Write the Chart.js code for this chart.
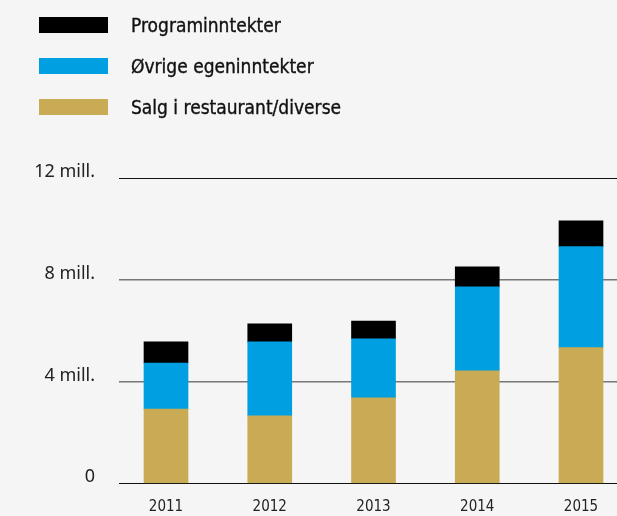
<!DOCTYPE html>
<html>
<head>
<meta charset="utf-8">
<script src="https://cdn.jsdelivr.net/npm/chart.js@4"></script>
<style>
html, body { margin: 0; padding: 0; background: #f5f5f5; overflow: hidden; }
#wrap { position: relative; width: 617px; height: 516px; }
#chart { position: absolute; left: 0; top: 0; }
#legend { position: absolute; left: 0; top: 0; }
.row { position: absolute; left: 39px; height: 41px; display: flex; align-items: center;
       font-family: "DejaVu Sans Condensed", "DejaVu Sans", sans-serif; font-size: 19px; color: #111;
       white-space: nowrap; -webkit-text-stroke: 0.35px #111; }
.box { width: 69px; height: 16px; margin-right: 23px; }
</style>
</head>
<body>
<div id="wrap">
  <canvas id="chart" width="617" height="516"></canvas>
  <div id="legend"></div>
</div>
<script>
const years = [2011, 2012, 2013, 2014, 2015];
const salg = [2.92, 2.65, 3.36, 4.42, 5.33];
const ovrige = [1.81, 2.91, 2.32, 3.30, 3.97];
const program = [0.83, 0.71, 0.70, 0.79, 1.02];
const yTicks = [0, 4, 8, 12];

const pts = arr => years.map((yr, i) => ({ x: yr, y: arr[i] }));

const chart = new Chart(document.getElementById("chart"), {
    type: "bar",
    data: {
        datasets: [
            { label: "Salg i restaurant/diverse", data: pts(salg), backgroundColor: "#c9aa55" },
            { label: "Øvrige egeninntekter", data: pts(ovrige), backgroundColor: "#009fe2" },
            { label: "Programinntekter", data: pts(program), backgroundColor: "#000000" }
        ]
    },
    options: {
        responsive: false,
        animation: false,
        layout: { padding: { top: 178, left: 0, right: 0, bottom: 0 } },
        datasets: { bar: { barThickness: 44 } },
        plugins: { legend: { display: false }, tooltip: { enabled: false } },
        scales: {
            x: {
                type: "linear",
                stacked: true,
                offset: false,
                min: 2010.547,
                max: 2015.347,
                grid: { display: false, offset: false },
                border: { display: false },
                afterBuildTicks: s => { s.ticks = years.map(v => ({ value: v })); },
                afterFit: s => { s.height = 32.7; },
                ticks: {
                    padding: 7,
                    autoSkip: false,
                    maxRotation: 0,
                    color: "#222",
                    font: { family: "DejaVu Sans Condensed, DejaVu Sans", size: 15 },
                    callback: v => String(v)
                }
            },
            y: {
                stacked: true,
                min: 0,
                max: 12,
                afterBuildTicks: s => { s.ticks = yTicks.map(v => ({ value: v })); },
                afterFit: s => { s.width = 119; s.paddingTop = 0; s.paddingBottom = 0; },
                border: { display: false },
                grid: {
                    drawTicks: false,
                    color: c => (c.tick.value === 0 || c.tick.value === 12) ? "#111" : "#777",
                    lineWidth: c => (c.tick.value === 0 || c.tick.value === 12) ? 1 : 1.5
                },
                ticks: {
                    padding: 24,
                    labelOffset: -6,
                    color: "#222",
                    font: { family: "Noto Sans", size: 18 },
                    callback: v => v === 0 ? "0" : v + " mill."
                }
            }
        }
    }
});

// legend, top series first
const legend = document.getElementById("legend");
chart.data.datasets.slice().reverse().forEach((ds, i) => {
    const row = document.createElement("div");
    row.className = "row";
    row.style.top = (4 + i * 41) + "px";
    row.innerHTML = `<span class="box" style="background:${ds.backgroundColor}"></span>${ds.label}`;
    legend.appendChild(row);
});
</script>
</body>
</html>
